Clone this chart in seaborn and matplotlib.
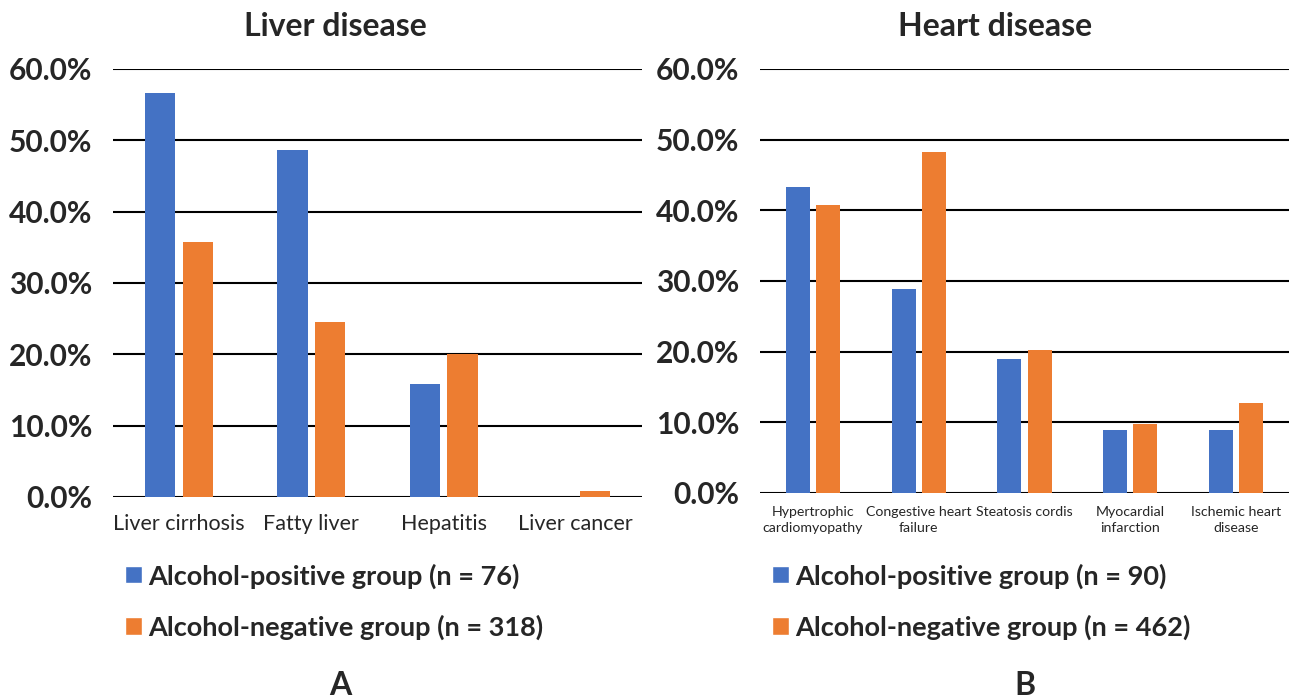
import matplotlib
matplotlib.use("Agg")
import matplotlib.pyplot as plt
import seaborn as sns
import pandas as pd
from matplotlib.patches import Patch
from matplotlib.ticker import FuncFormatter

sns.set_theme(style="white")
plt.rcParams['font.family'] = ['Lato', 'DejaVu Sans']

# ---- data ----
liver_categories = ["Liver cirrhosis", "Fatty liver", "Hepatitis", "Liver cancer"]
liver_positive = [56.6, 48.7, 15.8, 0.0]
liver_negative = [35.8, 24.5, 20.1, 0.9]

heart_categories = ["Hypertrophic\ncardiomyopathy", "Congestive heart\nfailure",
                    "Steatosis cordis", "Myocardial\ninfarction", "Ischemic heart\ndisease"]
heart_positive = [43.3, 28.9, 18.9, 8.9, 8.9]
heart_negative = [40.7, 48.3, 20.3, 9.7, 12.8]

liver_groups = ["Alcohol-positive group (n = 76)", "Alcohol-negative group (n = 318)"]
heart_groups = ["Alcohol-positive group (n = 90)", "Alcohol-negative group (n = 462)"]
yticks = [0, 10, 20, 30, 40, 50, 60]
colors = ["#4472C4", "#ED7D31"]


def long_df(cats, pos, neg, groups):
    rows = []
    for c, p, n in zip(cats, pos, neg):
        rows.append({"cat": c, "val": p, "grp": groups[0]})
        rows.append({"cat": c, "val": n, "grp": groups[1]})
    return pd.DataFrame(rows)


fig = plt.figure(figsize=(12.89, 6.98), dpi=100)
axL = fig.add_axes([113/1289, 201/698, 529/1289, 428/698])
axR = fig.add_axes([760/1289, 205/698, 529/1289, 424/698])


def draw(ax, cats, pos, neg, groups, title, title_x, xfs, xpad, letter, letter_x, leg_x):
    df = long_df(cats, pos, neg, groups)
    sns.barplot(data=df, x="cat", y="val", hue="grp", order=cats, hue_order=groups,
                palette=colors, width=0.57, gap=0.2, ax=ax, legend=False,
                saturation=1, edgecolor="none", zorder=3)
    ax.set_ylim(0, 60)
    ax.set_yticks(yticks)
    ax.yaxis.set_major_formatter(FuncFormatter(lambda v, p: f"{v:.1f}%"))
    for lab in ax.get_yticklabels():
        lab.set_fontsize(21.5)
        lab.set_fontweight("bold")
    ax.tick_params(axis="y", length=0, pad=15)
    ax.tick_params(axis="x", length=0, pad=xpad, labelsize=xfs)
    for lab in ax.get_xticklabels():
        lab.set_linespacing(1.45)
    ax.grid(axis="y", color="black", linewidth=1.5, zorder=0)
    ax.set_axisbelow(True)
    for s in ax.spines.values():
        s.set_visible(False)
    ax.set_xlabel("")
    ax.set_ylabel("")
    ax.set_xlim(-0.5, len(cats) - 0.5)
    ax.set_title(title, fontsize=23, fontweight="bold", x=title_x, y=1.0, pad=24)
    handles = [Patch(facecolor=colors[0], label=groups[0]),
               Patch(facecolor=colors[1], label=groups[1])]
    fig.legend(handles=handles, loc="upper left", bbox_to_anchor=(leg_x, 0.193),
               frameon=False, prop={"size": 19.5, "weight": "bold"},
               handlelength=0.62, handleheight=0.6, handletextpad=0.25,
               labelspacing=0.95, borderaxespad=0, borderpad=0)
    fig.text(letter_x, 0.004, letter, fontsize=23, fontweight="bold",
             ha="center", va="baseline")


draw(axL, liver_categories, liver_positive, liver_negative, liver_groups,
     "Liver disease", 0.42, 15.5, 12, "A", 340/1289, 125/1289)
draw(axR, heart_categories, heart_positive, heart_negative, heart_groups,
     "Heart disease", 0.445, 10.2, 9, "B", 1025/1289, 772/1289)

fig.savefig("out.png", dpi=100)
